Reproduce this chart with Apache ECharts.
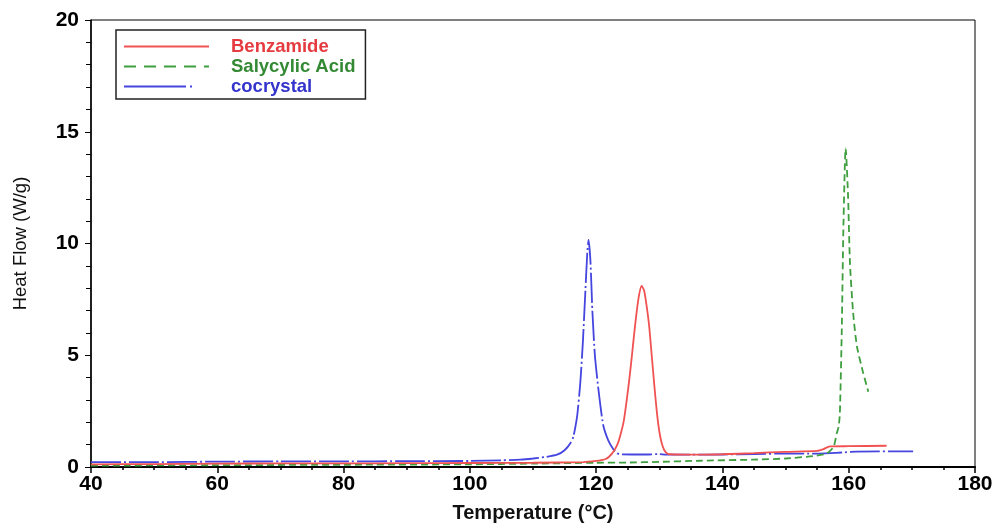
<!DOCTYPE html>
<html>
<head>
<meta charset="utf-8">
<script src="https://cdn.jsdelivr.net/npm/echarts@6/dist/echarts.min.js"></script>
<style>
html,body{margin:0;padding:0;background:#fff;}
#chart{width:993px;height:524px;}
</style>
</head>
<body>
<div id="chart"></div>
<script>
// ---- Data ----
const seriesNames = ['Benzamide', 'Salycylic Acid', 'cocrystal'];

const benzamideT  = [40, 50, 60, 70, 80, 90, 100, 110, 118, 120, 121, 121.5, 122, 122.5, 123, 123.5, 124, 124.4, 124.8, 125.2, 125.6, 126, 126.4, 126.8, 127.2, 127.6, 128, 128.4, 128.8, 129.2, 129.6, 130, 130.4, 130.8, 131.2, 131.7, 136, 140, 145, 150, 155, 156, 157, 160, 166];
const benzamideHF = [0.12, 0.13, 0.15, 0.16, 0.16, 0.17, 0.18, 0.19, 0.22, 0.27, 0.32, 0.36, 0.45, 0.6, 0.8, 1.1, 1.6, 2.1, 2.9, 3.8, 4.8, 5.9, 6.9, 7.7, 8.1, 7.9, 7.2, 6.3, 5.0, 3.7, 2.5, 1.6, 1.05, 0.75, 0.62, 0.57, 0.55, 0.57, 0.62, 0.68, 0.72, 0.8, 0.92, 0.93, 0.95];

const salicylicT  = [40, 60, 80, 100, 110, 120, 125, 130, 136.5, 145, 150, 154.4, 156.5, 157.6, 158.1, 158.4, 158.6, 158.9, 159.15, 159.5, 159.6, 159.9, 160.2, 160.7, 161.3, 162.3, 163.1];
const salicylicHF = [0.06, 0.08, 0.1, 0.12, 0.15, 0.19, 0.2, 0.23, 0.28, 0.33, 0.38, 0.49, 0.6, 0.9, 1.5, 1.8, 2.4, 6.1, 10.6, 14.26, 14.0, 12.1, 9.1, 6.9, 5.4, 4.2, 3.37];

const cocrystalT  = [40, 50, 60, 70, 80, 90, 100, 105, 108, 110, 112, 113.8, 115, 116, 116.4, 117, 117.5, 117.9, 118.3, 118.6, 118.8, 119.1, 119.4, 119.8, 120.35, 121.1, 121.9, 122.7, 123.3, 124, 128, 130, 131, 136.5, 140, 145, 150, 155, 157, 159, 161.3, 170.2];
const cocrystalHF = [0.22, 0.22, 0.24, 0.25, 0.25, 0.26, 0.27, 0.3, 0.33, 0.38, 0.45, 0.55, 0.75, 1.1, 1.36, 2.3, 3.8, 5.6, 7.9, 9.6, 10.16, 9.2, 7.0, 5.0, 3.5, 1.9, 1.2, 0.8, 0.61, 0.57, 0.56, 0.58, 0.55, 0.55, 0.56, 0.58, 0.6, 0.6, 0.62, 0.65, 0.69, 0.7];

const xTicks = {min: 40, max: 180, interval: 20};
const yTicks = {min: 0, max: 20, interval: 5};

// ---- Build chart ----
function pairs(xs, ys) { return xs.map((x, i) => [x, ys[i]]); }

const lineColors = ['#f05252', '#3f9f3f', '#4545e0'];
const textColors = ['#e53a3f', '#348a34', '#3434cc'];
const dashes = ['solid', [7, 4], [30, 3, 2, 3]];
const legendDashes = ['solid', [12, 8], [62, 4, 2, 30]];

const chart = echarts.init(document.getElementById('chart'));
const font = 'Liberation Sans, Arial, sans-serif';

chart.setOption({
  animation: false,
  backgroundColor: '#fff',
  grid: {left: 91, right: 18, top: 20, bottom: 57, show: true, borderColor: '#000', borderWidth: 1,
         backgroundColor: 'transparent', containLabel: false, outerBoundsMode: 'none'},
  legend: {
    orient: 'vertical',
    left: 116, top: 30,
    backgroundColor: '#fff',
    borderColor: '#222', borderWidth: 1.5,
    padding: [7, 10, 3, 7],
    itemWidth: 85, itemHeight: 14, itemGap: 1,
    itemStyle: {opacity: 0},
    textStyle: {fontFamily: font, fontSize: 18.5, fontWeight: 'bold', lineHeight: 14, padding: [0, 0, 0, 17]},
    data: seriesNames.map((n, i) => ({
      name: n,
      textStyle: {color: textColors[i]},
      lineStyle: {type: legendDashes[i], width: 2}
    }))
  },
  xAxis: {
    type: 'value', min: xTicks.min, max: xTicks.max, interval: xTicks.interval,
    name: 'Temperature (°C)', nameLocation: 'middle', nameGap: 36,
    nameTextStyle: {fontFamily: font, fontSize: 20, fontWeight: 'bold', color: '#111'},
    axisLine: {show: true, onZero: false, lineStyle: {color: '#000', width: 2}},
    axisTick: {show: true, inside: false, length: 6, lineStyle: {color: '#000', width: 1.5}},
    minorTick: {show: true, splitNumber: 4, length: 3, lineStyle: {color: '#000', width: 1.5}},
    splitLine: {show: false},
    axisLabel: {fontFamily: font, fontSize: 21, fontWeight: 'bold', color: '#000', margin: 7}
  },
  yAxis: {
    type: 'value', min: yTicks.min, max: yTicks.max, interval: yTicks.interval,
    name: 'Heat Flow (W/g)', nameLocation: 'middle', nameGap: 61, nameRotate: 90,
    nameTextStyle: {fontFamily: font, fontSize: 18.5, color: '#111'},
    axisLine: {show: true, onZero: false, lineStyle: {color: '#000', width: 1.5}},
    axisTick: {show: true, inside: false, length: 6, lineStyle: {color: '#000', width: 1}},
    minorTick: {show: true, splitNumber: 5, length: 5, lineStyle: {color: '#000', width: 1}},
    splitLine: {show: false},
    axisLabel: {fontFamily: font, fontSize: 21, fontWeight: 'bold', color: '#000', margin: 12}
  },
  series: [
    {name: seriesNames[0], type: 'line', data: pairs(benzamideT, benzamideHF)},
    {name: seriesNames[1], type: 'line', data: pairs(salicylicT, salicylicHF)},
    {name: seriesNames[2], type: 'line', data: pairs(cocrystalT, cocrystalHF)}
  ].map((s, i) => Object.assign(s, {
    symbol: 'none', smooth: 0.2, z: 3 - i,
    color: lineColors[i],
    lineStyle: {color: lineColors[i], width: 1.8, type: dashes[i]}
  }))
});
</script>
</body>
</html>
